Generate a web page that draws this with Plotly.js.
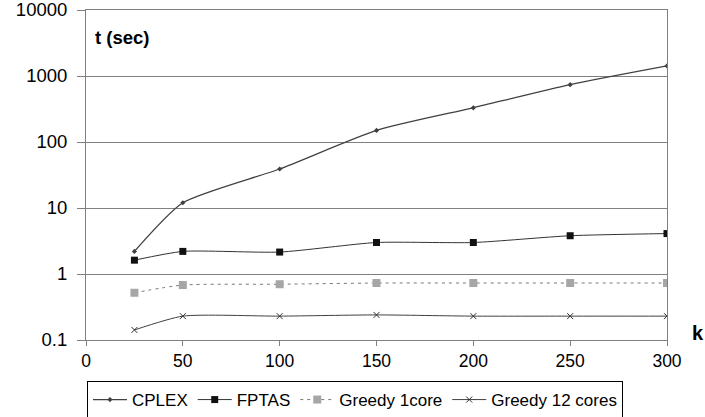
<!DOCTYPE html>
<html><head><meta charset="utf-8">
<script src="https://cdn.plot.ly/plotly-3.0.1.min.js"></script>
<style>html,body{margin:0;padding:0;background:#fff}</style>
</head><body>
<div id="chart" style="width:705px;height:417px"></div>
<script>
var kValues = [25, 50, 100, 150, 200, 250, 300];
var cplex = [2.2, 12, 39, 150, 330, 740, 1420];
var fptas = [1.62, 2.2, 2.15, 3.0, 3.0, 3.8, 4.1];
var greedy1 = [0.52, 0.68, 0.70, 0.73, 0.73, 0.73, 0.73];
var greedy12 = [0.142, 0.23, 0.23, 0.24, 0.23, 0.23, 0.23];
var yTickVals = [0.1, 1, 10, 100, 1000, 10000];
var yTickText = ["0.1", "1", "10", "100", "1000", "10000"];
var seriesNames = ["CPLEX", "FPTAS", "Greedy 1core", "Greedy 12 cores"];

var FONT = 'Liberation Sans, Arial, sans-serif';
var traces = [
  {x: kValues, y: cplex, name: seriesNames[0], mode: 'lines+markers',
   line: {color: '#404040', width: 1.3, shape: 'spline', smoothing: 0.6},
   marker: {symbol: 'diamond', size: 4, color: '#404040'}},
  {x: kValues, y: fptas, name: seriesNames[1], mode: 'lines+markers',
   line: {color: '#333333', width: 1, shape: 'spline', smoothing: 0.6},
   marker: {symbol: 'square', size: 7, color: '#111111'}},
  {x: kValues, y: greedy1, name: seriesNames[2], mode: 'lines+markers',
   line: {color: '#777777', width: 1, dash: '3px,4px', shape: 'spline', smoothing: 0.6},
   marker: {symbol: 'square', size: 8, color: '#a6a6a6'}},
  {x: kValues, y: greedy12, name: seriesNames[3], mode: 'lines+markers',
   line: {color: '#404040', width: 1, shape: 'spline', smoothing: 0.6},
   marker: {symbol: 'x-thin', size: 6, line: {color: '#333333', width: 1}}}
];

var layout = {
  width: 705, height: 417,
  margin: {l: 86, r: 38, t: 10, b: 77, autoexpand: false},
  paper_bgcolor: '#ffffff', plot_bgcolor: '#ffffff',
  font: {family: FONT, size: 17, color: '#000'},
  showlegend: true,
  xaxis: {
    range: [0, 300], dtick: 50, tick0: 0, showgrid: false, zeroline: false,
    showline: true, linecolor: '#808080', linewidth: 1, mirror: true,
    ticks: 'outside', ticklen: 5, tickcolor: '#808080',
    ticklabeloverflow: 'allow',
    tickfont: {size: 17.5, family: FONT, color: '#000'}
  },
  yaxis: {
    type: 'log', range: [-1, 4], tickvals: yTickVals, ticktext: yTickText,
    showgrid: true, gridcolor: '#808080', gridwidth: 1, zeroline: false,
    showline: true, linecolor: '#808080', linewidth: 1, mirror: true,
    ticks: 'outside', ticklen: 8, tickcolor: '#808080', ticklabelstandoff: 6,
    ticklabeloverflow: 'allow',
    tickfont: {size: 18.5, family: FONT, color: '#000'}
  },
  legend: {
    orientation: 'h', xref: 'container', yref: 'container',
    x: 0.5035, xanchor: 'center', y: 0.0863, yanchor: 'top',
    bordercolor: '#000', borderwidth: 1, bgcolor: '#fff',
    font: {size: 17, family: FONT, color: '#000'},
    itemwidth: 34, tracegroupgap: 0
  },
  annotations: [
    {text: '<b>t (sec)</b>', xref: 'paper', yref: 'paper', x: 0.012, y: 0.918,
     xanchor: 'left', yanchor: 'middle', showarrow: false,
     font: {size: 18.5, family: FONT, color: '#000'}},
    {text: '<b>k</b>', xref: 'paper', yref: 'paper', x: 1.04, y: 0.02,
     xanchor: 'left', yanchor: 'middle', showarrow: false,
     font: {size: 20, family: FONT, color: '#000'}}
  ]
};
Plotly.newPlot('chart', traces, layout, {staticPlot: true, displayModeBar: false});
</script>
</body></html>
